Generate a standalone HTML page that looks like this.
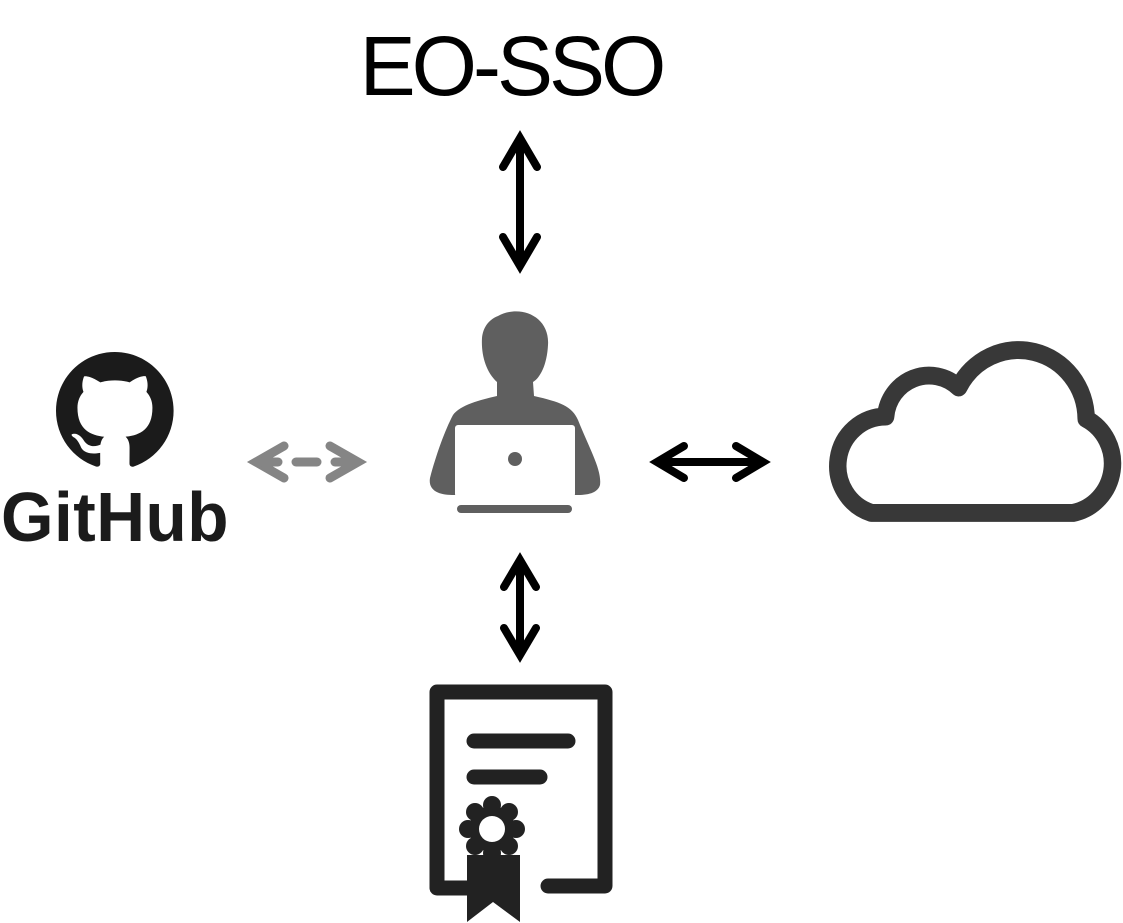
<!DOCTYPE html>
<html><head><meta charset="utf-8"><style>
html,body{margin:0;padding:0;background:#fff;}
body{width:1123px;height:923px;position:relative;overflow:hidden;}
</style></head><body>
<svg width="1123" height="923" viewBox="0 0 1123 923" xmlns="http://www.w3.org/2000/svg" style="position:absolute;left:0;top:0">
<text x="511" y="95" text-anchor="middle" font-family="Liberation Sans, sans-serif" font-size="84" letter-spacing="-4" fill="#000">EO-SSO</text>

<g stroke="#000" stroke-width="8" fill="none" stroke-linecap="round" stroke-linejoin="miter" stroke-miterlimit="10">
  <line x1="520" y1="140" x2="520" y2="264"/>
  <polyline points="503,167 520,138 537,167"/>
  <polyline points="503,237 520,266 537,237"/>
  <line x1="520" y1="562" x2="520" y2="652"/>
  <polyline points="504,587 520,560 536,587"/>
  <polyline points="504,628 520,655 536,628"/>
  <line x1="660" y1="462" x2="760" y2="462"/>
  <polyline points="684,446 657,462 684,478"/>
  <polyline points="736,446 763,462 736,478"/>
</g>
<g stroke="#858585" stroke-width="9" fill="none" stroke-linecap="round" stroke-linejoin="miter" stroke-miterlimit="10">
  <polyline points="284,446 256,462 284,478"/>
  <line x1="262" y1="462" x2="278" y2="462"/>
  <line x1="296" y1="462" x2="317" y2="462"/>
  <polyline points="330,446 358,462 330,478"/>
  <line x1="335" y1="462" x2="352" y2="462"/>
</g>

<g transform="translate(56,352) scale(7.35)" fill="#1b1b1b">
<path d="M8 0C3.58 0 0 3.580 0 8c0 3.54 2.29 6.53 5.47 7.59.4.07.55-.17.55-.38 0-.19-.01-.82-.01-1.49-2.010.37-2.53-.49-2.69-.94-.09-.23-.48-.94-.82-1.13-.28-.15-.68-.52-.01-.53.63-.01 1.08.58 1.23.82.72 1.21 1.87.87 2.33.66.07-.52.28-.87.51-1.07-1.78-.2-3.64-.89-3.64-3.95 0-.87.31-1.59.82-2.15-.08-.2-.36-1.02.08-2.12 0 0 .67-.21 2.2.82.64-.18 1.32-.27 2-.27.68 0 1.36.09 2 .27 1.53-1.04 2.2-.82 2.2-.82.44 1.1.16 1.92.08 2.12.51.56.82 1.27.82 2.15 0 3.07-1.87 3.75-3.65 3.95.29.25.54.73.54 1.48 0 1.07-.01 1.93-.01 2.2 0 .21.15.46.55.38A8.013 8.013 0 0016 8c0-4.42-3.58-8-8-8z"/>
</g>
<text x="115" y="541" text-anchor="middle" font-family="Liberation Sans, sans-serif" font-weight="bold" font-size="70" letter-spacing="0.5" textLength="228" lengthAdjust="spacingAndGlyphs" fill="#1b1b1b">GitHub</text>

<g fill="#5f5f5f">
  <path d="M498 316 C520 304 550 316 548 345 C547 365 540 378 533 382 L534 396 C560 402 572 406 578 420 C590 450 602 470 600 485 C598 492 590 495 578 495 L452 495 C438 495 428 490 430 478 C436 455 445 430 453 415 C460 405 480 400 497 396 L497 382 C486 372 481 355 482 338 C483 328 488 320 498 316 Z"/>
  <rect x="457" y="505" width="115" height="8" rx="4"/>
</g>
<rect x="455" y="425" width="120" height="72" rx="3" fill="#fff"/>
<circle cx="515" cy="459" r="7" fill="#5f5f5f"/>

<g transform="translate(975,523) scale(1.09,1.12) translate(-975,-523)">
<path d="M880 514 A44 44 0 0 1 893 428 A40 40 0 0 1 960 402 A62 62 0 0 1 1077 430 A45 45 0 0 1 1065 514 Z" fill="none" stroke="#383838" stroke-width="16" stroke-linejoin="round"/>
</g>

<g fill="#222" stroke="#222">
  <path d="M474 888 L437 888 L437 692 L605 692 L605 886 L548 886" fill="none" stroke-width="15" stroke-linejoin="round" stroke-linecap="round"/>
  <line x1="474" y1="741" x2="568" y2="741" stroke-width="15" stroke-linecap="round"/>
  <line x1="474" y1="777" x2="540" y2="777" stroke-width="15" stroke-linecap="round"/>
  <path d="M467 855 L520 855 L520 922 L493 902 L467 922 Z" stroke="none"/>
  <g stroke="none">
    <circle cx="492" cy="829" r="23"/>
    <circle cx="492" cy="805" r="9"/><circle cx="492" cy="853" r="9"/>
    <circle cx="468" cy="829" r="9"/><circle cx="516" cy="829" r="9"/>
    <circle cx="475" cy="812" r="9"/><circle cx="509" cy="812" r="9"/>
    <circle cx="475" cy="846" r="9"/><circle cx="509" cy="846" r="9"/>
  </g>
  <circle cx="492" cy="829" r="13" fill="#fff" stroke="none"/>
</g>
</svg>
</body></html>
